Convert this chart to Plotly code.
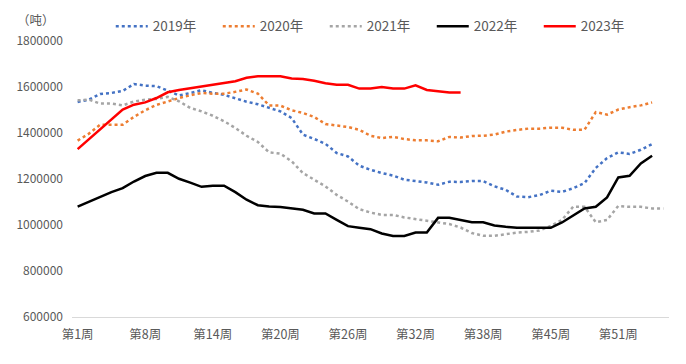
import plotly.graph_objects as go

# Category labels (weeks)
weeks = list(range(1, 7)) + list(range(8, 39)) + list(range(40, 56))
categories = [f"第{w}周" for w in weeks]
tick_labels = [categories[i] for i in range(0, len(categories), 6)]

y_ticks = [600000, 800000, 1000000, 1200000, 1400000, 1600000, 1800000]

s2019 = [1535000, 1545000, 1570000, 1574000, 1583000, 1613000, 1606000, 1604000, 1584000, 1563000,
         1574000, 1586000, 1574000, 1566000, 1551000, 1536000, 1525000, 1509000, 1494000, 1465000,
         1393000, 1374000, 1353000, 1313000, 1298000, 1258000, 1240000, 1226000, 1215000, 1197000,
         1192000, 1185000, 1175000, 1188000, 1187000, 1191000, 1191000, 1168000, 1153000, 1124000,
         1121000, 1130000, 1149000, 1144000, 1160000, 1182000, 1248000, 1291000, 1316000, 1309000,
         1327000, 1352000]
s2020 = [1367000, 1397000, 1436000, 1436000, 1436000, 1470000, 1499000, 1522000, 1538000, 1552000,
         1564000, 1574000, 1571000, 1571000, 1579000, 1589000, 1571000, 1520000, 1519000, 1499000,
         1487000, 1470000, 1439000, 1432000, 1426000, 1414000, 1388000, 1378000, 1383000, 1374000,
         1368000, 1368000, 1364000, 1383000, 1380000, 1387000, 1388000, 1393000, 1406000, 1413000,
         1419000, 1419000, 1423000, 1423000, 1414000, 1414000, 1491000, 1480000, 1502000, 1512000,
         1520000, 1533000]
s2021 = [1542000, 1545000, 1528000, 1528000, 1520000, 1537000, 1545000, 1548000, 1557000, 1538000,
         1509000, 1494000, 1475000, 1451000, 1422000, 1388000, 1361000, 1316000, 1310000, 1277000,
         1226000, 1197000, 1168000, 1131000, 1102000, 1069000, 1054000, 1044000, 1044000, 1033000,
         1026000, 1020000, 1011000, 1004000, 989000, 965000, 953000, 953000, 960000, 967000,
         970000, 976000, 996000, 1022000, 1080000, 1079000, 1012000, 1022000, 1083000, 1079000,
         1079000, 1072000, 1072000]
s2022 = [1080000, 1102000, 1124000, 1143000, 1160000, 1189000, 1213000, 1227000, 1227000, 1201000,
         1184000, 1166000, 1171000, 1171000, 1143000, 1110000, 1086000, 1080000, 1078000, 1073000,
         1066000, 1050000, 1050000, 1022000, 995000, 988000, 982000, 963000, 952000, 952000,
         967000, 967000, 1031000, 1031000, 1021000, 1012000, 1012000, 998000, 992000, 988000,
         988000, 988000, 988000, 1011000, 1040000, 1072000, 1079000, 1120000, 1207000, 1214000,
         1268000, 1301000]
s2023 = [1330000, 1373000, 1416000, 1459000, 1502000, 1523000, 1533000, 1552000, 1577000, 1587000,
         1594000, 1602000, 1610000, 1618000, 1625000, 1640000, 1647000, 1647000, 1647000, 1637000,
         1635000, 1627000, 1616000, 1610000, 1610000, 1593000, 1593000, 1600000, 1593000, 1593000,
         1607000, 1587000, 1583000, 1576000, 1576000]

series = [
    ("2019年", s2019, "#4472C4", "dot"),
    ("2020年", s2020, "#ED7D31", "dot"),
    ("2021年", s2021, "#A5A5A5", "dot"),
    ("2022年", s2022, "#000000", "solid"),
    ("2023年", s2023, "#FF0000", "solid"),
]

FONT = "Noto Sans CJK SC"
TXT = "#595959"

fig = go.Figure()
for name, vals, color, dash in series:
    fig.add_trace(go.Scatter(
        x=categories[:len(vals)], y=vals, name=name, mode="lines",
        line=dict(color=color, width=2.5, dash=dash),
    ))

fig.update_layout(
    width=678, height=356,
    margin=dict(l=64, r=17, t=33, b=47, autoexpand=False),
    paper_bgcolor="white", plot_bgcolor="white",
    font=dict(family=FONT, size=12, color=TXT),
    showlegend=True,
    legend=dict(orientation="h", x=0.513, xanchor="center", y=1.053, yanchor="middle",
                font=dict(family=FONT, size=13.5, color=TXT),
                bgcolor="rgba(0,0,0,0)", itemwidth=32,
                entrywidth=60, entrywidthmode="pixels", tracegroupgap=0),
    annotations=[dict(text="（吨）", xref="paper", yref="paper", x=-0.06, y=1.118,
                      xanchor="center", yanchor="top", showarrow=False,
                      font=dict(family=FONT, size=12.5, color=TXT))],
)
fig.update_xaxes(
    type="category", categoryorder="array", categoryarray=categories,
    range=[-0.5, len(categories) - 0.5],
    tickmode="array", tickvals=tick_labels, ticktext=tick_labels,
    showgrid=False, showline=True, linecolor="#D9D9D9", linewidth=1,
    ticks="", ticklabelstandoff=6, zeroline=False,
    tickfont=dict(family=FONT, size=12.5, color=TXT),
)
fig.update_yaxes(
    range=[600000, 1800000], tickmode="array", tickvals=y_ticks,
    ticktext=[str(v) for v in y_ticks],
    showgrid=False, showline=False, zeroline=False, ticks="",
    ticklabelstandoff=8,
    tickfont=dict(family=FONT, size=12, color=TXT),
)

fig.write_html("out.html")
